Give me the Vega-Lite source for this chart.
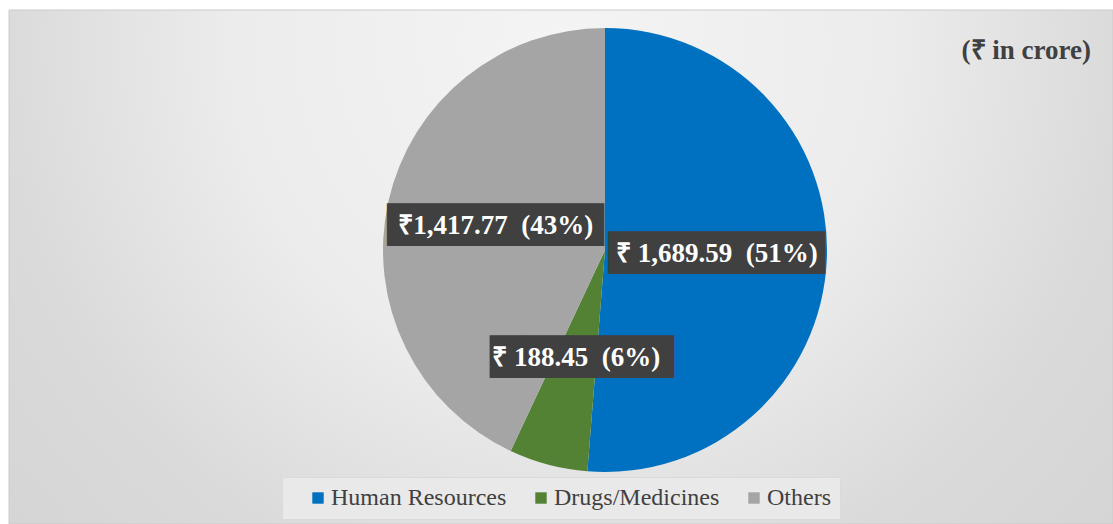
{
  "$schema": "https://vega.github.io/schema/vega-lite/v6.json",
  "width": 1104,
  "height": 514,
  "autosize": {"type": "none"},
  "padding": {"left": 9, "top": 10, "right": 0, "bottom": 0},
  "background": "white",
  "config": {
    "view": {"stroke": "#c8c8c8"}
  },
  "title": {
    "text": "(₹ in crore)",
    "orient": "top",
    "anchor": "end",
    "frame": "group",
    "offset": 0,
    "dy": 55,
    "dx": -22,
    "font": "Liberation Serif, Times New Roman, serif",
    "fontSize": 27,
    "fontWeight": "bold",
    "color": "#404040"
  },
  "data": {
    "values": [
      {"category": "Human Resources", "amount": 1689.59, "label": "₹ 1,689.59\u00a0 (51%)", "order": 1},
      {"category": "Drugs/Medicines", "amount": 188.45, "label": "₹ 188.45\u00a0 (6%)", "order": 2},
      {"category": "Others", "amount": 1417.77, "label": "₹1,417.77\u00a0 (43%)", "order": 3}
    ]
  },
  "layer": [
    {
      "data": {"values": [{"bg": 1}]},
      "mark": {
        "type": "rect",
        "stroke": "#cbcbcb",
        "strokeWidth": 1,
        "fill": {
          "gradient": "radial",
          "x1": 0.5, "y1": 0.3, "r1": 0,
          "x2": 0.5, "y2": 0.3, "r2": 0.85,
          "stops": [
            {"offset": 0, "color": "#f4f4f4"},
            {"offset": 0.35, "color": "#ececec"},
            {"offset": 0.6, "color": "#dadada"},
            {"offset": 1, "color": "#cfcfcf"}
          ]
        }
      },
      "encoding": {}
    },
    {
      "mark": {"type": "arc", "outerRadius": 222, "xOffset": 44, "yOffset": -17},
      "encoding": {
        "theta": {"field": "amount", "type": "quantitative", "stack": true},
        "order": {"field": "order", "type": "quantitative"},
        "color": {
          "field": "category",
          "type": "nominal",
          "scale": {
            "domain": ["Human Resources", "Drugs/Medicines", "Others"],
            "range": ["#0070C0", "#548235", "#A5A5A5"]
          },
          "legend": {
            "title": "\u00a0",
            "titleOrient": "left",
            "titleFontSize": 10,
            "titlePadding": 15,
            "orient": "none",
            "direction": "horizontal",
            "legendX": 273,
            "legendY": 467,
            "symbolType": "square",
            "symbolSize": 130,
            "symbolStrokeWidth": 0,
            "labelFont": "Liberation Serif, Times New Roman, serif",
            "labelFontSize": 24,
            "labelLimit": 400,
            "labelColor": "#404040",
            "labelOffset": 1,
            "labelExpr": "datum.label == 'Others' ? datum.label + '\u00a0\u00a0\u00a0' : datum.label",
            "columnPadding": 22,
            "padding": 9,
            "fillColor": "#e9e9e9",
            "strokeColor": "#dadada"
          }
        }
      }
    },
    {
      "mark": {"type": "text", "radius": 112, "xOffset": 44, "yOffset": -17, "font": "DejaVu Sans Mono", "fontSize": 36, "color": "#404040", "align": "center", "baseline": "middle"},
      "encoding": {
        "theta": {"field": "amount", "type": "quantitative", "stack": true},
        "order": {"field": "order", "type": "quantitative"},
        "text": {
          "condition": {"test": "datum.category === 'Drugs/Medicines'", "value": "▐████████"},
          "value": "██████████"
        }
      }
    },
    {
      "mark": {"type": "text", "radius": 112, "xOffset": 44, "yOffset": -17, "font": "Liberation Serif, Times New Roman, serif", "fontSize": 27, "fontWeight": "bold", "color": "white", "align": "center", "baseline": "middle"},
      "encoding": {
        "theta": {"field": "amount", "type": "quantitative", "stack": true},
        "order": {"field": "order", "type": "quantitative"},
        "text": {"field": "label", "type": "nominal"}
      }
    }
  ]
}
